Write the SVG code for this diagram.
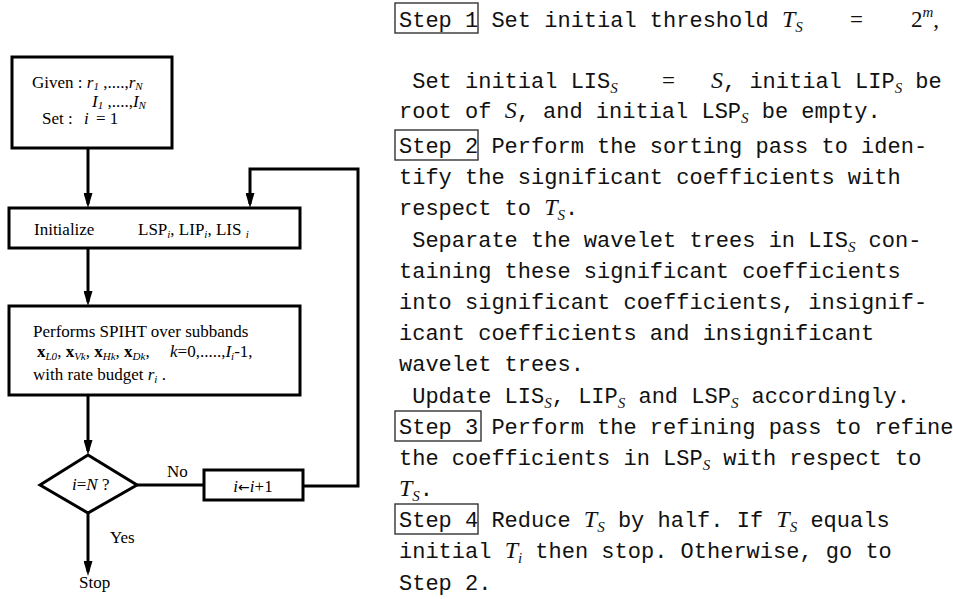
<svg xmlns="http://www.w3.org/2000/svg" width="953" height="599" viewBox="0 0 953 599">
<defs>
<style>
.bx{fill:#fff;stroke:#000;stroke-width:3}
.cn{fill:none;stroke:#000;stroke-width:3}
.f{font-family:"Liberation Serif","Times New Roman",serif;font-size:17px;fill:#000}
.fi{font-style:italic}
.fs{font-size:11px;font-style:italic}
.fb{font-weight:bold}
.ar{font-family:"DejaVu Sans",sans-serif;font-size:14px}
.t{font-family:"Liberation Mono","Courier New",monospace;font-size:22px;fill:#111}
.mi{font-family:"Liberation Serif","Times New Roman",serif;font-style:italic;font-size:24px}
.sb{font-family:"Liberation Serif","Times New Roman",serif;font-style:italic;font-size:15px}
.rm{font-family:"Liberation Serif","Times New Roman",serif;font-size:23px}
.sx{fill:none;stroke:#333;stroke-width:1.4}
</style>
<marker id="ah" markerUnits="userSpaceOnUse" markerWidth="15" markerHeight="9" viewBox="0 0 15 9" refX="11" refY="4.5" orient="auto">
<path d="M0,0 L15,4.5 L0,9 z" fill="#000"/>
</marker>
</defs>
<rect width="953" height="599" fill="#fff"/>

<g id="connectors">
<line class="cn" x1="88" y1="148" x2="88" y2="204" marker-end="url(#ah)"/>
<line class="cn" x1="88" y1="248" x2="88" y2="302" marker-end="url(#ah)"/>
<line class="cn" x1="88" y1="395" x2="88" y2="451" marker-end="url(#ah)"/>
<line class="cn" x1="137" y1="485" x2="204" y2="485"/>
<polyline class="cn" points="303,486 358,486 358,169 250,169 250,204" marker-end="url(#ah)"/>
<line class="cn" x1="88" y1="513" x2="88" y2="572" marker-end="url(#ah)"/>
<text class="f" x="167" y="477">No</text>
<text class="f" x="110" y="543">Yes</text>
</g>

<g id="given">
<rect class="bx" x="12" y="57" width="160" height="91"/>
<text class="f" x="32" y="88">Given : <tspan class="fi">r</tspan><tspan class="fs" dy="2">1</tspan><tspan dy="-2"> ,....,</tspan><tspan class="fi">r</tspan><tspan class="fs" dy="2">N</tspan></text>
<text class="f" x="92" y="107"><tspan class="fi">I</tspan><tspan class="fs" dy="2">1</tspan><tspan dy="-2"> ,....,</tspan><tspan class="fi">I</tspan><tspan class="fs" dy="2">N</tspan></text>
<text class="f" x="42" y="124">Set :<tspan class="fi" x="84">i</tspan><tspan x="96">= 1</tspan></text>
</g>

<g id="initialize">
<rect class="bx" x="9" y="208" width="291" height="40"/>
<text class="f" x="34" y="235">Initialize<tspan x="138">LSP</tspan><tspan class="fs" dy="3">i</tspan><tspan dy="-3">, LIP</tspan><tspan class="fs" dy="3">i</tspan><tspan dy="-3">, LIS </tspan><tspan class="fs" dy="3">i</tspan></text>
</g>

<g id="spiht">
<rect class="bx" x="9" y="306" width="291" height="89"/>
<text class="f" x="33" y="337">Performs SPIHT over subbands</text>
<text class="f" x="37" y="357"><tspan class="fb">x</tspan><tspan class="fs" dy="3">L0</tspan><tspan dy="-3">, </tspan><tspan class="fb">x</tspan><tspan class="fs" dy="3">Vk</tspan><tspan dy="-3">, </tspan><tspan class="fb">x</tspan><tspan class="fs" dy="3">Hk</tspan><tspan dy="-3">, </tspan><tspan class="fb">x</tspan><tspan class="fs" dy="3">Dk</tspan><tspan dy="-3">,</tspan><tspan class="fi" x="170">k</tspan>=0,.....,<tspan class="fi">I</tspan><tspan class="fs" dy="3">i</tspan><tspan dy="-3">-1,</tspan></text>
<text class="f" x="33" y="380">with rate budget  <tspan class="fi">r</tspan><tspan class="fs" dy="3">i</tspan><tspan dy="-3"> .</tspan></text>
</g>

<g id="decision">
<polygon class="bx" points="40,485 88,455 137,485 88,513"/>
<text class="f" x="72" y="490"><tspan class="fi">i</tspan>=<tspan class="fi">N</tspan> ?</text>
</g>

<g id="increment">
<rect class="bx" x="204" y="470" width="99" height="30"/>
<text class="f" x="253" y="492" text-anchor="middle"><tspan class="fi">i</tspan><tspan class="ar">←</tspan><tspan class="fi">i</tspan>+1</text>
</g>

<g id="stop">
<text class="f" x="79" y="588">Stop</text>
</g>

<g id="steps">
<rect class="sx" x="395" y="3" width="83" height="30"/>
<rect class="sx" x="395" y="130" width="83" height="30"/>
<rect class="sx" x="395" y="411" width="86" height="30"/>
<rect class="sx" x="395" y="504" width="83" height="30"/>

<text class="t" xml:space="preserve" x="399" y="27">Step 1 Set initial threshold <tspan class="mi">T</tspan><tspan class="sb" dy="5">S</tspan><tspan class="rm" x="850" dy="-5">=</tspan><tspan class="rm" x="911">2</tspan><tspan class="sb" dy="-10">m</tspan><tspan class="rm" dy="10">,</tspan></text>
<text class="t" xml:space="preserve" x="399" y="88"> Set initial LIS<tspan class="sb" dy="5">S</tspan><tspan class="rm" x="662" dy="-5">=</tspan><tspan class="mi" x="711">S</tspan>, initial LIP<tspan class="sb" dy="5">S</tspan><tspan dy="-5"> be</tspan></text>
<text class="t" xml:space="preserve" x="399" y="118">root of <tspan class="mi">S</tspan>, and initial LSP<tspan class="sb" dy="5">S</tspan><tspan dy="-5"> be empty.</tspan></text>
<text class="t" xml:space="preserve" x="399" y="153">Step 2 Perform the sorting pass to iden-</text>
<text class="t" xml:space="preserve" x="399" y="184">tify the significant coefficients with</text>
<text class="t" xml:space="preserve" x="399" y="215">respect to <tspan class="mi">T</tspan><tspan class="sb" dy="5">S</tspan><tspan dy="-5">.</tspan></text>
<text class="t" xml:space="preserve" x="399" y="247"> Separate the wavelet trees in LIS<tspan class="sb" dy="5">S</tspan><tspan dy="-5"> con-</tspan></text>
<text class="t" xml:space="preserve" x="399" y="278">taining these significant coefficients</text>
<text class="t" xml:space="preserve" x="399" y="309">into significant coefficients, insignif-</text>
<text class="t" xml:space="preserve" x="399" y="340">icant coefficients and insignificant</text>
<text class="t" xml:space="preserve" x="399" y="371">wavelet trees.</text>
<text class="t" xml:space="preserve" x="399" y="403"> Update LIS<tspan class="sb" dy="5">S</tspan><tspan dy="-5">, LIP</tspan><tspan class="sb" dy="5">S</tspan><tspan dy="-5"> and LSP</tspan><tspan class="sb" dy="5">S</tspan><tspan dy="-5"> accordingly.</tspan></text>
<text class="t" xml:space="preserve" x="399" y="434">Step 3 Perform the refining pass to refine</text>
<text class="t" xml:space="preserve" x="399" y="465">the coefficients in LSP<tspan class="sb" dy="5">S</tspan><tspan dy="-5"> with respect to</tspan></text>
<text class="t" xml:space="preserve" x="399" y="496"><tspan class="mi">T</tspan><tspan class="sb" dy="5">S</tspan><tspan dy="-5">.</tspan></text>
<text class="t" xml:space="preserve" x="399" y="527">Step 4 Reduce <tspan class="mi">T</tspan><tspan class="sb" dy="5">S</tspan><tspan dy="-5"> by half. If </tspan><tspan class="mi">T</tspan><tspan class="sb" dy="5">S</tspan><tspan dy="-5"> equals</tspan></text>
<text class="t" xml:space="preserve" x="399" y="558">initial <tspan class="mi">T</tspan><tspan class="sb" dy="5">i</tspan><tspan dy="-5"> then stop. Otherwise, go to</tspan></text>
<text class="t" xml:space="preserve" x="399" y="590">Step 2.</text>
</g>
</svg>
